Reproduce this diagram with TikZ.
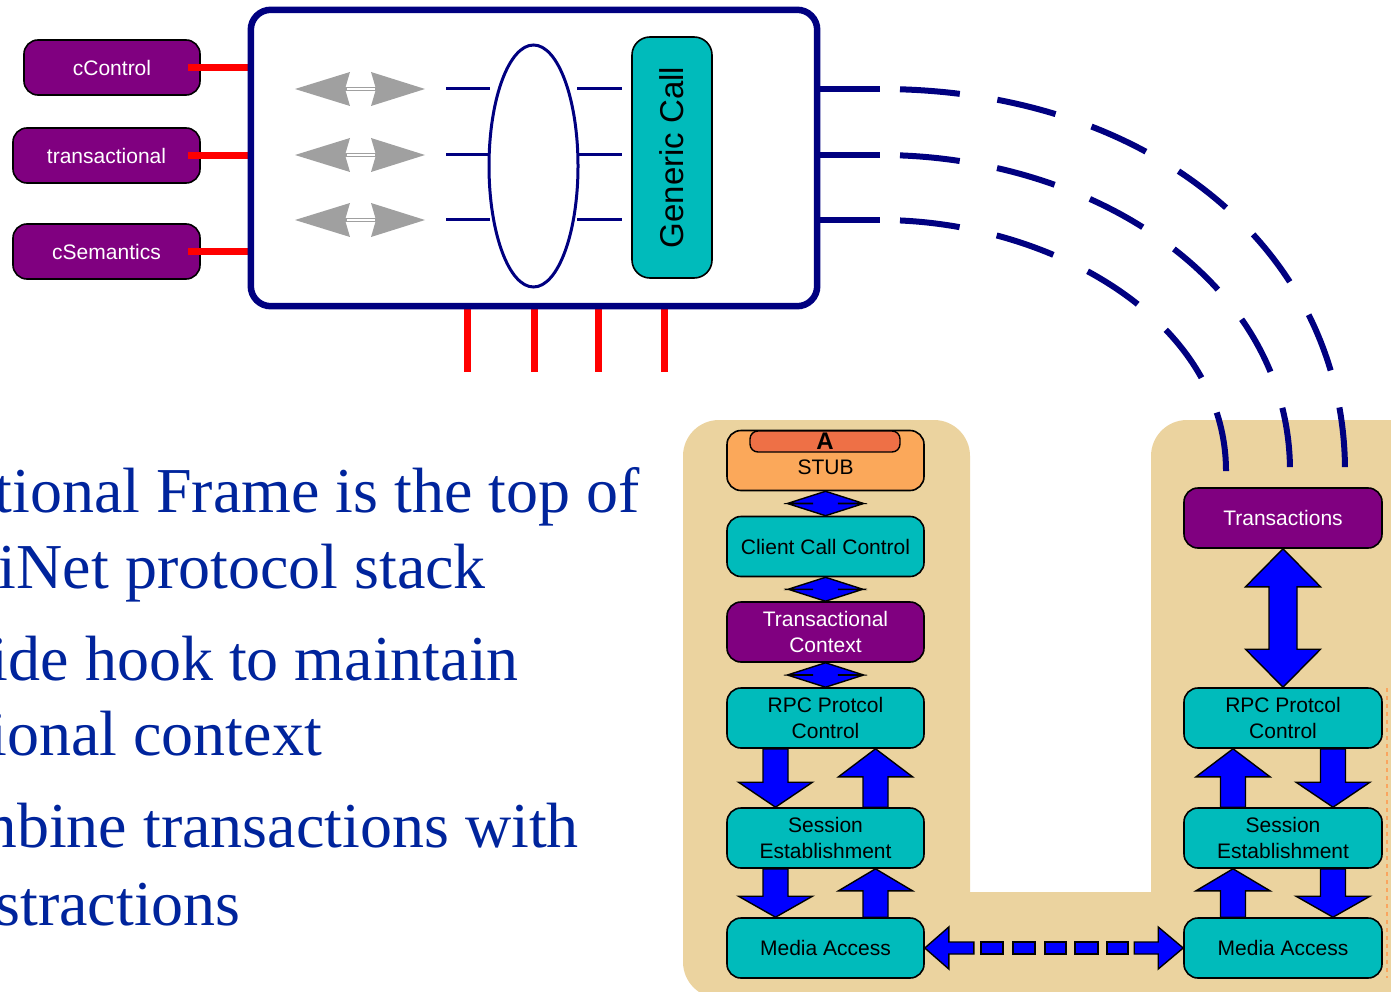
\documentclass[tikz,border=0pt]{standalone}
\usepackage{fontspec}
\setmainfont{Liberation Serif}
\setsansfont{Liberation Sans}
\usetikzlibrary{calc,shapes.geometric}

\definecolor{framenavy}{RGB}{0,0,128}
\definecolor{nodepurple}{RGB}{128,0,128}
\definecolor{nodeteal}{RGB}{0,187,187}
\definecolor{stubor}{RGB}{251,168,90}
\definecolor{tabor}{RGB}{238,112,70}
\definecolor{bgtan}{RGB}{235,211,159}
\definecolor{arrblue}{RGB}{0,0,255}
\definecolor{hookred}{RGB}{255,0,0}
\definecolor{arrgray}{RGB}{160,160,160}
\definecolor{textblue}{RGB}{0,36,156}
\definecolor{dotorange}{RGB}{250,165,95}

\tikzset{
  box/.style={draw=black, line width=1.6pt, rounded corners=14pt, inner sep=0pt,
    align=center, font=\sffamily\fontsize{21}{26}\selectfont},
  purplebox/.style={box, fill=nodepurple, text=white},
  tealbox/.style={box, fill=nodeteal, text=black},
  stackbox/.style={minimum width=197pt, minimum height=60pt},
  blk/.style={fill=arrblue, draw=black, line width=1.4pt, line join=miter},
  hook/.style={draw=hookred, line width=7pt},
  navyline/.style={draw=framenavy, line width=6pt},
  thinnavy/.style={draw=framenavy, line width=3pt},
  linkdash/.style={draw=framenavy, line width=6pt, dash pattern=on 60pt off 38pt, dash phase=78pt},
  bigtext/.style={anchor=base east, inner sep=0pt, text=textblue, font=\fontsize{64}{76}\selectfont},
}

% vertical block arrow: start point, tip, shaft half width, head half width, head length
\newcommand{\vblock}[5]{%
  \filldraw[blk] let \p1=#1, \p2=#2, \p3=($#2!#5!#1$) in
    (\x1-#3,\y1) -- (\x1+#3,\y1) -- (\x1+#3,\y3) -- (\x1+#4,\y3) -- (\x2,\y2)
    -- (\x1-#4,\y3) -- (\x1-#3,\y3) -- cycle;}
% vertical double-headed block arrow: tip, tip, shaft half width, head half width, head length
\newcommand{\vdouble}[5]{%
  \filldraw[blk] let \p1=#1, \p2=#2, \p3=($#1!#5!#2$), \p4=($#2!#5!#1$) in
    (\x1,\y1) -- (\x1+#4,\y3) -- (\x1+#3,\y3) -- (\x1+#3,\y4) -- (\x1+#4,\y4)
    -- (\x2,\y2) -- (\x1-#4,\y4) -- (\x1-#3,\y4) -- (\x1-#3,\y3) -- (\x1-#4,\y3) -- cycle;}
% horizontal block arrow: start point, tip, shaft half height, head half height, head length
\newcommand{\hblock}[5]{%
  \filldraw[blk] let \p1=#1, \p2=#2, \p3=($#2!#5!#1$) in
    (\x1,\y1-#3) -- (\x1,\y1+#3) -- (\x3,\y1+#3) -- (\x3,\y1+#4) -- (\x2,\y2)
    -- (\x3,\y1-#4) -- (\x3,\y1-#3) -- cycle;}
% grey two-way arrow inside the frame, at height #1
\newcommand{\greyway}[1]{%
  \fill[arrgray] (295,#1) -- (350,#1-17) -- (345,#1) -- (350,#1+17) -- cycle;
  \fill[arrgray] (425,#1) -- (371,#1-17) -- (376,#1) -- (371,#1+17) -- cycle;
  \draw[arrgray, line width=3.5pt] (345,#1) -- (377,#1);
  \draw[white, line width=1.2pt] (347,#1) -- (375,#1);}

\begin{document}
\begin{tikzpicture}[x=1pt, y=-1pt]
\useasboundingbox (0,0) rectangle (1391,992);
\clip (0,0) rectangle (1391,992);

% tan U-shaped backdrop
\fill[bgtan, rounded corners=36pt] (683,420) rectangle (970,998);
\fill[bgtan, rounded corners=36pt] (1151,420) rectangle (1440,1040);
\fill[bgtan] (900,892) rectangle (1440,1040);
\draw[dotorange, line width=1.5pt, dash pattern=on 4pt off 4pt] (1387,688) -- (1387,978);

% bullet text
\node[bigtext] (t1) at (640,512) {tional Frame is the top of};
\node[bigtext] (t2) at (486,588) {iNet protocol stack};
\node[bigtext] (t3) at (519,680) {ide hook to maintain};
\node[bigtext] (t4) at (322,755) {ional context};
\node[bigtext] (t5) at (579,847) {mbine transactions with};
\node[bigtext] (t6) at (241,925) {stractions};

% frame with its attributes
\node[purplebox, minimum width=176pt, minimum height=55pt] (cc) at (112,67.5) {cControl};
\node[purplebox, minimum width=187pt, minimum height=55pt] (ct) at (106.5,155.5) {transactional};
\node[purplebox, minimum width=187pt, minimum height=55pt] (cs) at (106.5,251.5) {cSemantics};
\node[minimum width=566pt, minimum height=296pt, inner sep=0pt] (frame) at (534,158) {};
\draw[hook] ($(cc.east)+(-13,0.5)$) -- ($(frame.west |- cc)+(-3,0.5)$);
\draw[hook] ($(ct.east)+(-13,0)$) -- ($(frame.west |- ct)+(-3,0)$);
\draw[hook] ($(cs.east)+(-13,0.5)$) -- ($(frame.west |- cs)+(-3,0.5)$);
\foreach \dx in {-67,0,64,130}
  \draw[hook] ($(frame.south)+(\dx,3)$) -- ++(0,63);

\greyway{89}
\greyway{155}
\greyway{220}

\node[draw=framenavy, line width=3pt, ellipse, minimum width=89pt, minimum height=242pt,
  inner sep=0pt] (ring) at (533.5,166) {};
\foreach \y in {89,155,220} {
  \draw[thinnavy] (446,\y) -- (490,\y);
  \draw[thinnavy] (577,\y) -- (622,\y);
}
\node[tealbox, minimum width=80pt, minimum height=241pt, rounded corners=18pt] (gc)
  at (672,157.5) {\rotatebox{90}{\fontsize{33}{33}\selectfont Generic Call}};

% left protocol stack
\node[box, stackbox, fill=stubor] (stub) at (825.5,460.5) {\raisebox{-13.5pt}[0pt][0pt]{STUB}};
\node[box, fill=tabor, minimum width=150pt, minimum height=21pt, rounded corners=8pt,
  line width=1.4pt, font=\sffamily\bfseries\fontsize{24}{24}\selectfont] (tab) at (825,441.5) {A};
\node[tealbox, stackbox] (ccc) at (825.5,546.5) {Client Call Control};
\node[purplebox, stackbox] (tcx) at (825.5,632) {Transactional\\Context};
\node[tealbox, stackbox] (rpcL) at (825.5,718) {RPC Protcol\\Control};
\node[tealbox, stackbox] (seL) at (825.5,838) {Session\\Establishment};
\node[tealbox, stackbox] (maL) at (825.5,948) {Media Access};

% right protocol stack
\node[purplebox, stackbox, minimum width=198pt] (trans) at (1283,518) {Transactions};
\node[tealbox, stackbox, minimum width=198pt] (rpcR) at (1283,718) {RPC Protcol\\Control};
\node[tealbox, stackbox, minimum width=198pt] (seR) at (1283,838) {Session\\Establishment};
\node[tealbox, stackbox, minimum width=198pt] (maR) at (1283,948) {Media Access};

% links from the frame down to Transactions
\coordinate (r1) at (880,89);
\coordinate (r2) at (880,155);
\coordinate (r3) at (880,220);
\coordinate (e1) at ($(trans.north)+(62,-16)$);
\coordinate (e2) at ($(trans.north)+(7,-16)$);
\coordinate (e3) at ($(trans.north)+(-57,-16)$);
\foreach \r in {r1,r2,r3}
  \draw[navyline] (frame.east |- \r) -- (\r);
\draw[linkdash] (r1) .. controls (1150,89) and (1345,250) .. (e1);
\draw[linkdash] (r2) .. controls (1090,155) and (1290,280) .. (e2);
\draw[linkdash] (r3) .. controls (1050,220) and (1226,320) .. (e3);
\draw[framenavy, line width=6.5pt, rounded corners=20pt]
  (frame.south west) rectangle (frame.north east);

% arrows of the left stack
\vdouble{(stub.south)}{(ccc.north)}{13pt}{37.5pt}{12pt}
\vdouble{(ccc.south)}{(tcx.north)}{13pt}{37.5pt}{12pt}
\vdouble{(tcx.south)}{(rpcL.north)}{13pt}{37.5pt}{12pt}
\vblock{($(rpcL.south)+(-50,0)$)}{($(seL.north)+(-50,0)$)}{12.5pt}{37pt}{25pt}
\vblock{($(seL.north)+(50,0)$)}{($(rpcL.south)+(50,0)$)}{12.5pt}{37pt}{28pt}
\vblock{($(seL.south)+(-50,0)$)}{($(maL.north)+(-50,0)$)}{12.5pt}{37pt}{21pt}
\vblock{($(maL.north)+(50,0)$)}{($(seL.south)+(50,0)$)}{12.5pt}{37pt}{22pt}

% arrows of the right stack
\vdouble{(trans.south)}{(rpcR.north)}{14pt}{37.5pt}{38pt}
\vblock{($(seR.north)+(-50,0)$)}{($(rpcR.south)+(-50,0)$)}{12.5pt}{37pt}{28pt}
\vblock{($(rpcR.south)+(50,0)$)}{($(seR.north)+(50,0)$)}{12.5pt}{37pt}{25pt}
\vblock{($(maR.north)+(-50,0)$)}{($(seR.south)+(-50,0)$)}{12.5pt}{37pt}{22pt}
\vblock{($(seR.south)+(50,0)$)}{($(maR.north)+(50,0)$)}{12.5pt}{37pt}{21pt}

% dashed two-way link between the media access layers
\hblock{($(maL.east)+(49,0)$)}{(maL.east)}{6pt}{21pt}{24pt}
\hblock{($(maR.west)+(-49,0)$)}{(maR.west)}{6pt}{21pt}{25pt}
\foreach \a/\b in {56/78,88/110,120/141,150/173,182/203}
  \filldraw[blk] ($(maL.east)+(\a,-6)$) rectangle ($(maL.east)+(\b,6)$);
\end{tikzpicture}
\end{document}
